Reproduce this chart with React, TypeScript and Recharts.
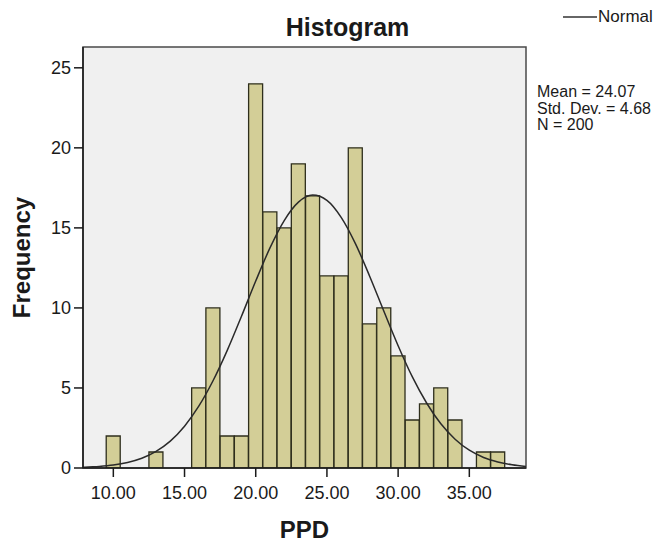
import React from "react";
import {
  ComposedChart,
  Bar,
  Line,
  XAxis,
  YAxis,
  Legend,
  Label,
  ReferenceArea,
} from "recharts";

// bin centres (PPD) and counts
const BIN_CENTERS = [
  10, 11, 12, 13, 14, 15, 16, 17, 18, 19, 20, 21, 22, 23, 24, 25, 26, 27, 28,
  29, 30, 31, 32, 33, 34, 35, 36, 37,
];
const COUNTS = [
  2, 0, 0, 1, 0, 0, 5, 10, 2, 2, 24, 16, 15, 19, 17, 12, 12, 20, 9, 10, 7, 3,
  4, 5, 3, 0, 1, 1,
];

// normal curve, read at whole-number PPD values
const CURVE_X = [
  7.9, 8, 9, 10, 11, 12, 13, 14, 15, 16, 17, 18, 19, 20, 21, 22, 23, 24, 25,
  26, 27, 28, 29, 30, 31, 32, 33, 34, 35, 36, 37, 38, 38.98,
];
const CURVE_Y = [
  0.04, 0.05, 0.1, 0.19, 0.35, 0.61, 1.04, 1.68, 2.61, 3.86, 5.45, 7.35, 9.48,
  11.68, 13.75, 15.46, 16.61, 17.05, 16.72, 15.66, 14.02, 11.98, 9.79, 7.64,
  5.69, 4.06, 2.76, 1.8, 1.11, 0.66, 0.38, 0.2, 0.1,
];

const X_TICKS = [10, 15, 20, 25, 30, 35];
const Y_TICKS = [0, 5, 10, 15, 20, 25];
const X_DOMAIN: [number, number] = [7.87, 38.98];
const Y_DOMAIN: [number, number] = [0, 26.3];

const STATS = ["Mean = 24.07", "Std. Dev. = 4.68", "N = 200"];

const histData = BIN_CENTERS.map((x, i) => ({ x, count: COUNTS[i] }));
const curveData = CURVE_X.map((x, i) => ({ x, normal: CURVE_Y[i] }));

const FONT = "'Liberation Sans', Arial, sans-serif";
const INK = "#1a1a1a";

function NormalLegend(props: any) {
  const items = (props.payload || []).filter((p: any) => p.type !== "none");
  return (
    <div style={{ display: "flex", alignItems: "center" }}>
      {items.map((p: any) => (
        <div key={p.value} style={{ display: "flex", alignItems: "center" }}>
          <svg width={34} height={4} style={{ display: "block", marginRight: 1 }}>
            <line x1={0} y1={2} x2={34} y2={2} stroke="#333" strokeWidth={1.5} />
          </svg>
          <span style={{ color: INK, fontSize: 17, lineHeight: "18px" }}>
            {p.value}
          </span>
        </div>
      ))}
    </div>
  );
}

export default function App() {
  return (
    <div
      style={{
        position: "absolute",
        left: 0,
        top: 0,
        width: 671,
        height: 542,
        background: "#ffffff",
        fontFamily: FONT,
      }}
    >
      <div
        style={{
          position: "absolute",
          left: 0,
          top: 15,
          width: 695,
          textAlign: "center",
          fontSize: 25,
          lineHeight: "25px",
          fontWeight: "bold",
          color: INK,
        }}
      >
        Histogram
      </div>
      <div
        style={{
          position: "absolute",
          left: 537,
          top: 84,
          fontSize: 16,
          lineHeight: "16.5px",
          color: INK,
          whiteSpace: "nowrap",
        }}
      >
        {STATS.map((s) => (
          <div key={s}>{s}</div>
        ))}
      </div>
      <ComposedChart
        width={671}
        height={542}
        data={histData}
        margin={{ top: 47, right: 145, bottom: 0, left: 0 }}
        barCategoryGap={0}
        barGap={0}
      >
        <ReferenceArea
          x1={X_DOMAIN[0]}
          x2={X_DOMAIN[1]}
          y1={Y_DOMAIN[0]}
          y2={Y_DOMAIN[1]}
          fill="#f0f0f0"
          fillOpacity={1}
          stroke="#4a4a4a"
          strokeWidth={1.5}
        />
        <XAxis
          dataKey="x"
          type="number"
          domain={X_DOMAIN}
          ticks={X_TICKS}
          allowDataOverflow
          height={74}
          tickFormatter={(v: number) => v.toFixed(2)}
          tick={{ fill: INK, fontSize: 18 }}
          tickSize={9}
          tickMargin={9}
          stroke={INK}
          strokeWidth={1.5}
        >
          <Label
            value="PPD"
            position="insideBottom"
            offset={4}
            style={{ fontSize: 24, fontWeight: "bold", fill: INK }}
          />
        </XAxis>
        <XAxis
          xAxisId="curve"
          dataKey="x"
          type="number"
          domain={X_DOMAIN}
          allowDataOverflow
          hide
        />
        <YAxis
          type="number"
          domain={Y_DOMAIN}
          ticks={Y_TICKS}
          allowDataOverflow
          width={83}
          tick={{ fill: INK, fontSize: 18 }}
          tickSize={9}
          tickMargin={3}
          stroke={INK}
          strokeWidth={1.5}
        >
          <Label
            value="Frequency"
            angle={-90}
            position="insideLeft"
            offset={21}
            style={{
              fontSize: 24,
              fontWeight: "bold",
              fill: INK,
              textAnchor: "middle",
            }}
          />
        </YAxis>
        <Bar
          dataKey="count"
          fill="#d3ce97"
          stroke="#2e2e1c"
          strokeWidth={1.3}
          legendType="none"
          isAnimationActive={false}
        />
        <Line
          xAxisId="curve"
          data={curveData}
          dataKey="normal"
          name="Normal"
          type="monotone"
          stroke="#2a2a2a"
          strokeWidth={1.5}
          dot={false}
          activeDot={false}
          legendType="plainline"
          isAnimationActive={false}
        />
        <Legend
          layout="horizontal"
          verticalAlign="middle"
          align="center"
          content={NormalLegend}
          wrapperStyle={{
            position: "absolute",
            top: 8,
            left: 563,
            width: "auto",
            margin: 0,
          }}
        />
      </ComposedChart>
    </div>
  );
}
